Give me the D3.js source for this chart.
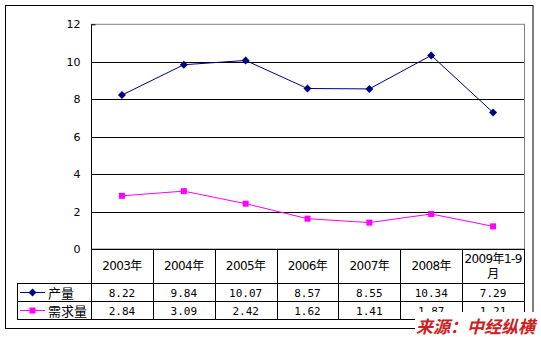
<!DOCTYPE html>
<html><head><meta charset="utf-8">
<script src="https://cdn.jsdelivr.net/npm/d3@7"></script>
<style>
html,body{margin:0;padding:0;background:#fff;}
svg{display:block;font-family:"Liberation Sans","Noto Sans CJK SC",sans-serif;}
</style></head>
<body><svg id="c" width="541" height="337"></svg>
<script>
const categories = ["2003年","2004年","2005年","2006年","2007年","2008年","2009年1-9月"];
const categoryLines = [["2003年"],["2004年"],["2005年"],["2006年"],["2007年"],["2008年"],["2009年1-9","月"]];
const seriesNames = ["产量","需求量"];
const production = [8.22, 9.84, 10.07, 8.57, 8.55, 10.34, 7.29];
const demand = [2.84, 3.09, 2.42, 1.62, 1.41, 1.87, 1.21];
const productionLabels = ["8.22","9.84","10.07","8.57","8.55","10.34","7.29"];
const demandLabels = ["2.84","3.09","2.42","1.62","1.41","1.87","1.21"];
const yTicks = [0,2,4,6,8,10,12];
const sourceText = "来源：中经纵横";

const svg = d3.select("#c");
const L = 91, R = 524, T = 24.3, B = 249;
const rowH = [283, 301, 319];
const legL = 17;

// outer border
svg.append("rect").attr("x",5.5).attr("y",5.5).attr("width",527.5).attr("height",323)
  .attr("fill","#fff").attr("stroke","#000").attr("stroke-width",1);

const x = d3.scaleBand().domain(categories).range([L,R]);
const y = d3.scaleLinear().domain([0,12]).range([B,T]);

// plot area border (gray)
svg.append("rect").attr("x",L+0.5).attr("y",T).attr("width",R-L).attr("height",B-T)
  .attr("fill","none").attr("stroke","#808080").attr("stroke-width",1);

// gridlines
svg.append("g").selectAll("line").data(yTicks.filter(d=>d>0 && d<12)).join("line")
  .attr("x1",L).attr("x2",R).attr("y1",d=>Math.round(y(d))+0.5).attr("y2",d=>Math.round(y(d))+0.5)
  .attr("stroke","#000").attr("stroke-width",1);

// y axis
const yAxis = d3.axisLeft(y).tickValues(yTicks).tickSize(4).tickPadding(7).tickFormat(d3.format("d"));
const ga = svg.append("g").attr("transform",`translate(${L+0.5},0)`).call(yAxis);
ga.attr("font-family",null).attr("font-size",null);
ga.select(".domain").attr("stroke","#000").attr("d",`M0,${T}V${B}`);
ga.selectAll(".tick line").attr("x1",0).attr("x2",0);
ga.selectAll(".tick line").filter(d=>d===12).attr("x2",4).attr("stroke","#000");
ga.selectAll("text").attr("fill","#000").attr("x",-11)
  .style("font-family","'DejaVu Sans', sans-serif").style("font-size","11px");

// x axis line
svg.append("line").attr("x1",L).attr("x2",R).attr("y1",B+0.5).attr("y2",B+0.5).attr("stroke","#000");

// table
const tg = svg.append("g").attr("stroke","#000").attr("stroke-width",1);
[[L,rowH[0]],[legL,rowH[0]],[legL,rowH[1]],[legL,rowH[2]]].forEach(([x0,yy])=>{
  tg.append("line").attr("x1",x0).attr("x2",R).attr("y1",yy+0.5).attr("y2",yy+0.5);
});
const bounds = categories.map(c=>x(c)).concat([R]);
bounds.forEach(bx=>{
  tg.append("line").attr("x1",Math.round(bx)+0.5).attr("x2",Math.round(bx)+0.5).attr("y1",B).attr("y2",rowH[2]+1);
});
tg.append("line").attr("x1",legL+0.5).attr("x2",legL+0.5).attr("y1",rowH[0]).attr("y2",rowH[2]+1);

// header labels
const hg = svg.append("g");
categories.forEach((c,i)=>{
  const lines = categoryLines[i];
  const cx = x(c)+x.bandwidth()/2;
  lines.forEach((ln,j)=>{
    const yy = lines.length===1 ? 270 : 263 + j*15;
    hg.append("text").attr("x",cx).attr("y",yy).attr("text-anchor","middle")
      .style("font-size","12px").style("font-family","'DejaVu Sans','Noto Sans CJK SC',sans-serif")
      .style("letter-spacing","-0.6px").attr("fill","#000").text(ln);
  });
});

// value rows
[productionLabels, demandLabels].forEach((labs,r)=>{
  labs.forEach((v,i)=>{
    svg.append("text").attr("x",x(categories[i])+x.bandwidth()/2).attr("y",rowH[r]+13.5)
      .attr("text-anchor","middle")
      .style("font-size","11px").style("font-family","'DejaVu Sans Mono',monospace")
      .attr("fill","#000").text(v);
  });
});

// series lines
const colors = ["#000080","#ff00ff"];
const data = [production, demand];
const line = d3.line().x((d,i)=>x(categories[i])+x.bandwidth()/2).y(d=>y(d));
data.forEach((s,k)=>{
  svg.append("path").datum(s).attr("d",line).attr("fill","none")
    .attr("stroke",colors[k]).attr("stroke-width",1);
});
const diamond = (cx,cy,g)=>g.append("path").attr("d",`M${cx},${cy-4}L${cx+4},${cy}L${cx},${cy+4}L${cx-4},${cy}Z`).attr("fill",colors[0]);
const square = (cx,cy,g)=>g.append("rect").attr("x",cx-3).attr("y",cy-3).attr("width",6).attr("height",6).attr("fill",colors[1]);
production.forEach((d,i)=>diamond(x(categories[i])+x.bandwidth()/2, y(d), svg));
demand.forEach((d,i)=>square(x(categories[i])+x.bandwidth()/2, y(d), svg));

// legend
[0,1].forEach(k=>{
  const cy = (rowH[k]+rowH[k+1])/2 + 0.5;
  svg.append("line").attr("x1",20).attr("x2",45).attr("y1",cy).attr("y2",cy).attr("stroke",colors[k]);
  if(k===0) diamond(32.5,cy,svg); else square(32.5,cy,svg);
  svg.append("text").attr("x",48).attr("y",cy+5).style("font-size","13px")
    .style("font-family","'Noto Sans CJK SC',sans-serif").attr("fill","#000").text(seriesNames[k]);
});

// source overlay
svg.append("rect").attr("x",415).attr("y",312).attr("width",126).attr("height",25).attr("fill","#fff");
svg.append("text").attr("x",416).attr("y",333)
  .style("font-size","17px").style("font-weight","bold").style("font-style","italic")
  .style("font-family","'Noto Sans CJK SC',sans-serif").attr("fill","#cc2020")
  .text(sourceText);
</script></body></html>
